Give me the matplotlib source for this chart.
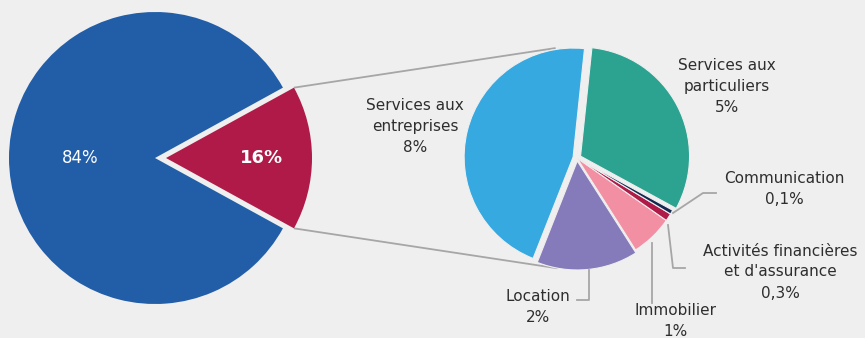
import matplotlib.pyplot as plt
import numpy as np

plt.rcParams.update({
    "font.family": "DejaVu Sans",
    "font.size": 11,
})

# --- data ---
main_labels = ["16%", "84%"]
main_values = [16, 84]

detail_names = ["Services aux\nentreprises", "Location", "Immobilier",
                "Activités financières\net d'assurance", "Communication",
                "Services aux\nparticuliers"]
detail_values = [7.3, 2.4, 1.0, 0.18, 0.1, 5.0]
detail_pct = ["8%", "2%", "1%", "0,3%", "0,1%", "5%"]

# --- style ---
BG = '#EFEFEF'
BLUE = '#225EA8'
RED = '#B01A48'
TEXT = '#2E2E2E'
LINE = '#A6A6A6'
detail_colors = ['#36A9E1', '#857BBA', '#F28FA2', '#B01A48', '#14294F', '#2CA291']

W, H = 865, 338


def py(y):
    # image y (top-down) -> data y
    return H - y


fig = plt.figure(figsize=(W / 100, H / 100), dpi=100, facecolor=BG)
ax = fig.add_axes([0, 0, 1, 1])
ax.set_facecolor(BG)

# big pie
big_c = (155, py(158))
big_r = 146
red_explode = 11
red_half = 360 * main_values[0] / sum(main_values) / 2
ax.pie(main_values, colors=[RED, BLUE], startangle=-red_half, center=big_c,
       radius=big_r, explode=[red_explode, 0], frame=True,
       wedgeprops=dict(linewidth=0))

# small pie
small_c = (577, py(158))
small_r = 109
ax.pie(detail_values, colors=detail_colors, startangle=84, center=small_c,
       radius=small_r, explode=[4, 3, 0, 0, 0, 4], frame=True,
       wedgeprops=dict(edgecolor=BG, linewidth=0.8))

# connector lines between the pies
apex = (big_c[0] + red_explode, big_c[1])
for a_big, a_small in [(red_half, 101), (-red_half, 260)]:
    x0 = apex[0] + big_r * np.cos(np.radians(a_big))
    y0 = apex[1] + big_r * np.sin(np.radians(a_big))
    x1 = small_c[0] + 112 * np.cos(np.radians(a_small))
    y1 = small_c[1] + 112 * np.sin(np.radians(a_small))
    ax.plot([x0, x1], [y0, y1], color=LINE, lw=1.3, solid_capstyle='butt', zorder=0)

# leader lines (image coords)
leaders = [
    [(673, 213), (703, 193), (716, 193)],
    [(668, 225), (673, 268), (685, 268)],
    [(652, 243), (652, 303)],
    [(589, 270), (589, 300), (577, 300)],
]
for pts in leaders:
    xs = [p[0] for p in pts]
    ys = [py(p[1]) for p in pts]
    ax.plot(xs, ys, color=LINE, lw=1.3, zorder=5)

# labels on big pie
ax.text(80, py(158), main_labels[1], color='white', fontsize=12, ha='center', va='center')
ax.text(262, py(158), main_labels[0], color='white', fontsize=13, fontweight='bold',
        ha='center', va='center')

# labels on small pie
label_pos = [(415, 126), (538, 307), (675, 321), (780, 272), (784, 189), (727, 87)]
for name, pct, (x, y) in zip(detail_names, detail_pct, label_pos):
    ax.text(x, py(y), f"{name}\n{pct}", color=TEXT, fontsize=11, ha='center',
            va='center', linespacing=1.5, zorder=6)

ax.set_xlim(0, W)
ax.set_ylim(0, H)
ax.set_aspect('equal')
ax.set_axis_off()

fig.savefig('out.png', dpi=100, facecolor=BG)
